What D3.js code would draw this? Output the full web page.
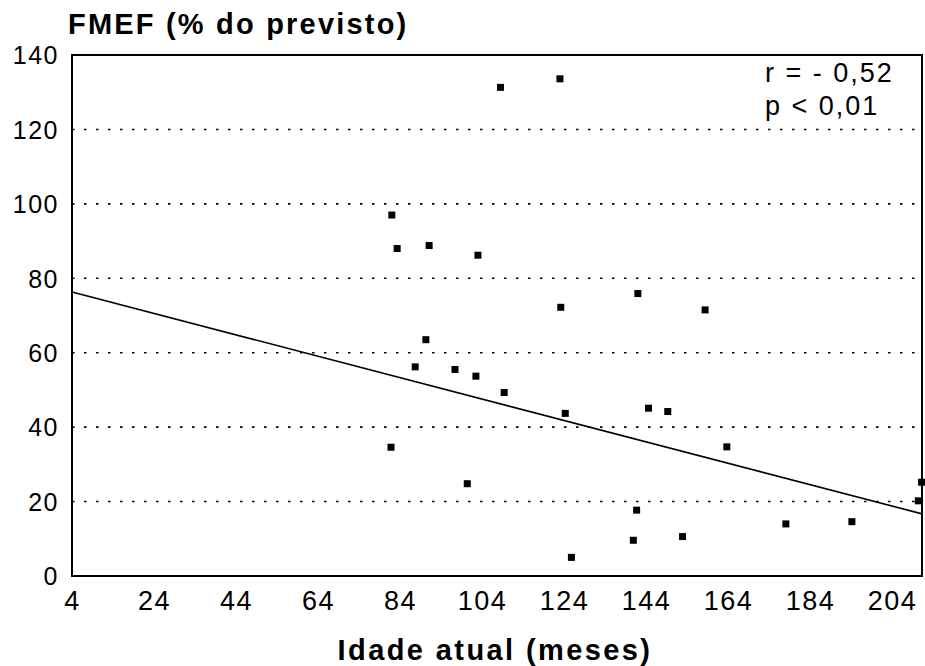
<!DOCTYPE html>
<html>
<head>
<meta charset="utf-8">
<script src="https://cdn.jsdelivr.net/npm/d3@7"></script>
<style>
  body { margin: 0; background: #fff; }
  svg text { font-family: "Liberation Sans", Arial, Helvetica, sans-serif; fill: #000; }
</style>
</head>
<body>
<script>
// idade atual (meses) x FMEF (% do previsto)
var ageMonths = [82.0, 83.3, 91.1, 103.0, 108.5, 123.0, 123.2, 142.0, 158.4, 90.3,
                 87.7, 97.4, 102.5, 109.4, 124.3, 144.6, 149.3, 163.7, 81.8, 100.4,
                 141.7, 140.9, 152.9, 125.8, 178.1, 194.2, 210.4, 211.2];
var fmefPct = [97.0, 88.0, 88.8, 86.2, 131.3, 133.6, 72.2, 75.9, 71.5, 63.5,
               56.2, 55.5, 53.7, 49.3, 43.7, 45.1, 44.2, 34.7, 34.6, 24.8,
               17.7, 9.6, 10.6, 5.0, 14.0, 14.6, 20.2, 25.2];

// regression line ends
var fitAge = [4, 211.3];
var fitFmef = [76.3, 16.7];

var xTicks = [4, 24, 44, 64, 84, 104, 124, 144, 164, 184, 204];
var yTicks = [0, 20, 40, 60, 80, 100, 120, 140];
var statLines = ["r = - 0,52", "p < 0,01"];

var width = 925, height = 666;
var margin = {left: 72, right: 3, top: 55, bottom: 90};

var svg = d3.select("body").append("svg")
    .attr("width", width)
    .attr("height", height);

var x = d3.scaleLinear().domain([4, 211.3]).range([margin.left, width - margin.right]);
var y = d3.scaleLinear().domain([0, 140]).range([height - margin.bottom, margin.top]);

// dotted grid
svg.append("g")
    .selectAll("line")
    .data(yTicks.filter(function (d) { return d > 0 && d < 140; }))
    .enter().append("line")
    .attr("x1", x.range()[0])
    .attr("x2", x.range()[1])
    .attr("y1", function (d) { return y(d); })
    .attr("y2", function (d) { return y(d); })
    .style("stroke", "#000")
    .style("stroke-width", 1.6)
    .style("stroke-dasharray", "2.5,9.5");

// y axis labels
var yAxis = d3.axisLeft(y).tickValues(yTicks).tickSize(0).tickPadding(13);
svg.append("g")
    .attr("transform", "translate(" + margin.left + ",0)")
    .call(yAxis)
    .call(function (g) { g.select(".domain").remove(); })
    .selectAll("text")
    .style("font-size", "25px")
    .style("letter-spacing", "1.5px")
    .attr("dy", "0.35em");

// x axis labels
var xAxis = d3.axisBottom(x).tickValues(xTicks).tickSize(0).tickPadding(10);
svg.append("g")
    .attr("transform", "translate(0," + y(0) + ")")
    .call(xAxis)
    .call(function (g) { g.select(".domain").remove(); })
    .selectAll("text")
    .style("font-size", "27px")
    .style("letter-spacing", "1.5px")
    .attr("dy", "0.9em");

// frame
svg.append("rect")
    .attr("x", x.range()[0])
    .attr("y", y(140))
    .attr("width", x.range()[1] - x.range()[0])
    .attr("height", y(0) - y(140))
    .style("fill", "none")
    .style("stroke", "#000")
    .style("stroke-width", 2);

// regression line
svg.append("line")
    .attr("x1", x(fitAge[0]))
    .attr("y1", y(fitFmef[0]))
    .attr("x2", x(fitAge[1]))
    .attr("y2", y(fitFmef[1]))
    .style("stroke", "#000")
    .style("stroke-width", 1.6);

// points
var pts = ageMonths.map(function (a, i) { return {age: a, v: fmefPct[i]}; });
svg.append("g")
    .selectAll("rect")
    .data(pts)
    .enter().append("rect")
    .attr("x", function (d) { return x(d.age) - 3.5; })
    .attr("y", function (d) { return y(d.v) - 3.5; })
    .attr("width", 7)
    .attr("height", 7)
    .style("fill", "#000");

// r / p
svg.append("g")
    .selectAll("text")
    .data(statLines)
    .enter().append("text")
    .attr("x", 765)
    .attr("y", function (d, i) { return 82 + i * 33; })
    .style("font-size", "27px")
    .style("letter-spacing", "2px")
    .text(function (d) { return d; });

// titles
svg.append("text")
    .attr("x", 68)
    .attr("y", 34)
    .style("font-size", "29px")
    .style("font-weight", "bold")
    .style("letter-spacing", "2.2px")
    .text("FMEF (% do previsto)");

svg.append("text")
    .attr("x", 495)
    .attr("y", 660)
    .attr("text-anchor", "middle")
    .style("font-size", "29px")
    .style("font-weight", "bold")
    .style("letter-spacing", "2.4px")
    .text("Idade atual (meses)");
</script>
</body>
</html>
